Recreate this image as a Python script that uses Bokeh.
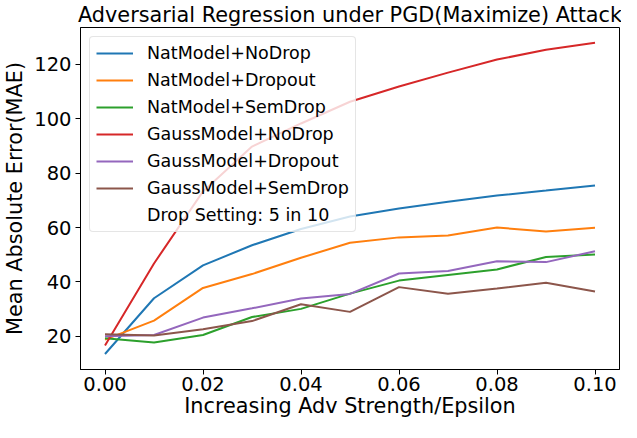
from bokeh.plotting import figure
from bokeh.models import Range1d, FixedTicker, NumeralTickFormatter, Legend, LegendItem
from bokeh.embed import file_html
from bokeh.resources import INLINE

eps = [0.00, 0.01, 0.02, 0.03, 0.04, 0.05, 0.06, 0.07, 0.08, 0.09, 0.10]
nat_nodrop = [13.5, 34.0, 46.1, 53.5, 59.5, 64.1, 67.0, 69.5, 71.8, 73.6, 75.5]
nat_dropout = [18.8, 25.8, 37.8, 42.9, 48.9, 54.4, 56.4, 57.1, 60.0, 58.6, 59.9]
nat_semdrop = [19.3, 17.7, 20.5, 27.1, 30.1, 35.7, 40.5, 42.6, 44.6, 49.2, 50.1]
gauss_nodrop = [16.6, 46.8, 73.3, 89.8, 98.3, 106.3, 111.9, 117.0, 121.8, 125.4, 128.0]
gauss_dropout = [20.0, 20.5, 26.9, 30.3, 33.9, 35.6, 43.1, 44.0, 47.6, 47.3, 51.3]
gauss_semdrop = [20.8, 20.3, 22.6, 25.6, 31.8, 29.0, 38.1, 35.7, 37.6, 39.7, 36.5]

series = [
    ("NatModel+NoDrop", nat_nodrop, "#1f77b4"),
    ("NatModel+Dropout", nat_dropout, "#ff7f0e"),
    ("NatModel+SemDrop", nat_semdrop, "#2ca02c"),
    ("GaussModel+NoDrop", gauss_nodrop, "#d62728"),
    ("GaussModel+Dropout", gauss_dropout, "#9467bd"),
    ("GaussModel+SemDrop", gauss_semdrop, "#8c564b"),
]
note_label = "Drop Setting: 5 in 10"
x_ticks = [0.00, 0.02, 0.04, 0.06, 0.08, 0.10]
y_ticks = [20, 40, 60, 80, 100, 120]

FONT = "DejaVu Sans"

p = figure(width=621, height=422,
           x_range=Range1d(-0.005, 0.105), y_range=Range1d(7.8, 133.6),
           output_backend="svg", toolbar_location=None,
           min_border_left=78, min_border_right=2, min_border_top=21, min_border_bottom=53)

p.title.text = "Adversarial Regression under PGD(Maximize) Attack"
p.title.align = "center"
p.title.text_font = FONT
p.title.text_font_size = "20.8px"
p.title.text_font_style = "normal"
p.title.text_color = "black"
p.title.standoff = 1
p.title.offset = 0

p.xgrid.visible = False
p.ygrid.visible = False
p.outline_line_color = "black"
p.outline_line_width = 1
p.background_fill_color = "white"
p.border_fill_color = "white"

p.xaxis.ticker = FixedTicker(ticks=x_ticks)
p.yaxis.ticker = FixedTicker(ticks=y_ticks)
p.xaxis.formatter = NumeralTickFormatter(format="0.00")
p.xaxis.axis_label = "Increasing Adv Strength/Epsilon"
p.yaxis.axis_label = "Mean Absolute Error(MAE)"
for ax in (p.xaxis[0], p.yaxis[0]):
    ax.axis_line_color = "black"
    ax.major_tick_line_color = "black"
    ax.minor_tick_line_color = None
    ax.major_tick_out = 5
    ax.major_tick_in = 0
    ax.major_label_text_font = FONT
    ax.major_label_text_font_size = "19.5px"
    ax.major_label_text_color = "black"
    ax.axis_label_text_font = FONT
    ax.axis_label_text_font_size = "20.8px"
    ax.axis_label_text_font_style = "normal"
    ax.axis_label_text_color = "black"
p.xaxis[0].major_label_standoff = 2
p.xaxis[0].axis_label_standoff = 0
p.yaxis[0].major_label_standoff = 4
p.yaxis[0].axis_label_standoff = 4

items = []
for name, vals, color in series:
    r = p.line(eps, vals, line_color=color, line_width=2)
    items.append(LegendItem(label=name, renderers=[r]))
dummy = p.line(eps, gauss_nodrop, line_alpha=0)
items.append(LegendItem(label=note_label, renderers=[dummy]))

legend = Legend(items=items, location="top_left", margin=9, padding=6, spacing=7,
                label_height=20, glyph_height=20, glyph_width=37, label_standoff=14,
                label_text_font=FONT, label_text_font_size="17.5px", label_text_color="black",
                border_line_color="#cccccc", border_line_width=1, border_radius=4,
                background_fill_color="white", background_fill_alpha=0.8)
p.add_layout(legend)

open("out.html", "w").write(file_html(p, INLINE))
